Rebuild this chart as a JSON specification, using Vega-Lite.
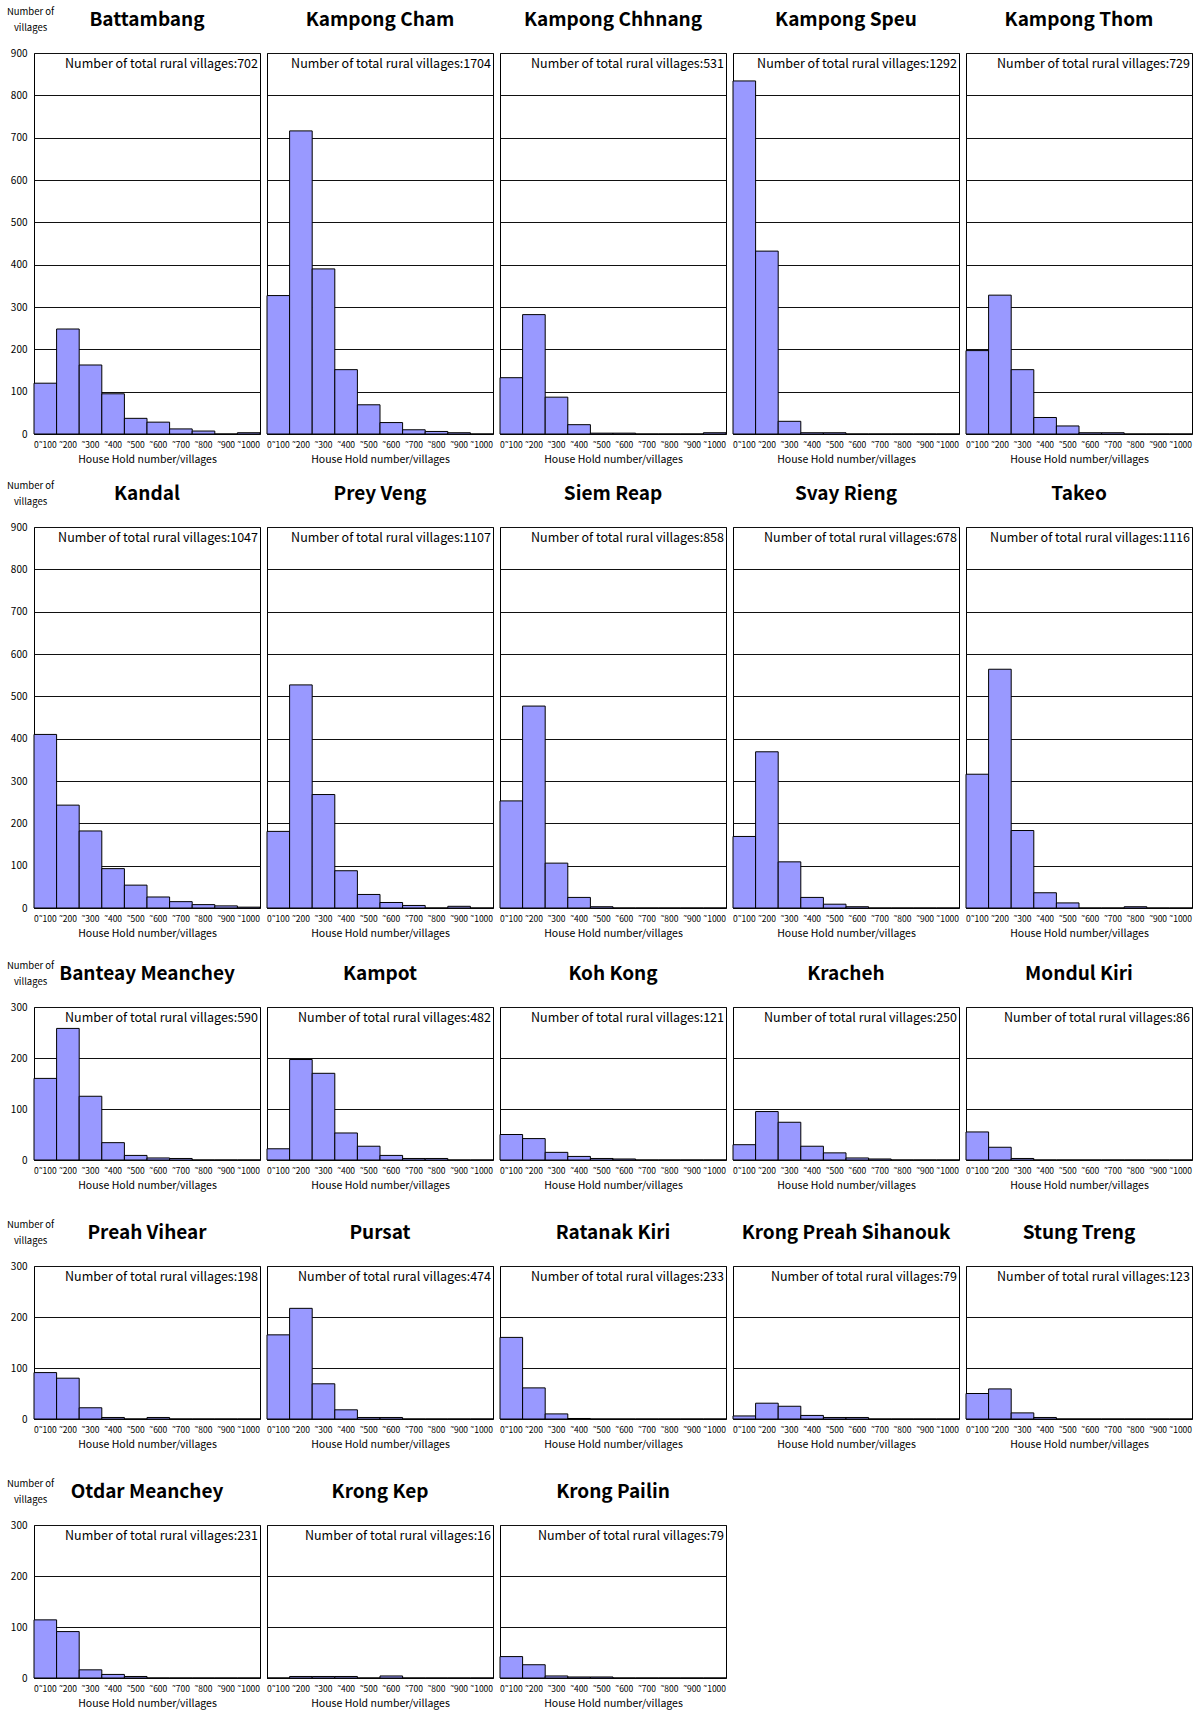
{
"$schema": "https://vega.github.io/schema/vega-lite/v6.json",
"background": "white",
"padding": {"left": 6, "top": 6, "right": 8, "bottom": 2},
"config": {
  "font": "Noto Sans CJK JP, Noto Sans, sans-serif",
  "view": {"stroke": "#000", "strokeWidth": 1},
  "axis": {"labelColor": "#000", "titleColor": "#000", "domain": false, "ticks": false},
  "header": {"labelFontSize": 19, "labelFontWeight": "bold", "labelColor": "#000", "labelPadding": 23, "labelFont": "Noto Sans CJK JP, Noto Sans, sans-serif"}
},
"datasets": {
"T": [
{"p":"Battambang","t":702},{"p":"Kampong Cham","t":1704},{"p":"Kampong Chhnang","t":531},{"p":"Kampong Speu","t":1292},{"p":"Kampong Thom","t":729},
{"p":"Kandal","t":1047},{"p":"Prey Veng","t":1107},{"p":"Siem Reap","t":858},{"p":"Svay Rieng","t":678},{"p":"Takeo","t":1116},
{"p":"Banteay Meanchey","t":590},{"p":"Kampot","t":482},{"p":"Koh Kong","t":121},{"p":"Kracheh","t":250},{"p":"Mondul Kiri","t":86},
{"p":"Preah Vihear","t":198},{"p":"Pursat","t":474},{"p":"Ratanak Kiri","t":233},{"p":"Krong Preah Sihanouk","t":79},{"p":"Stung Treng","t":123},
{"p":"Otdar Meanchey","t":231},{"p":"Krong Kep","t":16},{"p":"Krong Pailin","t":79}
],
"L": [
{"p":"Battambang","b":"0˜100","n":120},{"p":"Battambang","b":"˜200","n":248},{"p":"Battambang","b":"˜300","n":163},{"p":"Battambang","b":"˜400","n":95},{"p":"Battambang","b":"˜500","n":37},{"p":"Battambang","b":"˜600","n":28},{"p":"Battambang","b":"˜700","n":12},{"p":"Battambang","b":"˜800","n":7},{"p":"Battambang","b":"˜900","n":0},{"p":"Battambang","b":"˜1000","n":3},
{"p":"Kampong Cham","b":"0˜100","n":327},{"p":"Kampong Cham","b":"˜200","n":716},{"p":"Kampong Cham","b":"˜300","n":390},{"p":"Kampong Cham","b":"˜400","n":152},{"p":"Kampong Cham","b":"˜500","n":69},{"p":"Kampong Cham","b":"˜600","n":27},{"p":"Kampong Cham","b":"˜700","n":10},{"p":"Kampong Cham","b":"˜800","n":6},{"p":"Kampong Cham","b":"˜900","n":3},{"p":"Kampong Cham","b":"˜1000","n":0},
{"p":"Kampong Chhnang","b":"0˜100","n":133},{"p":"Kampong Chhnang","b":"˜200","n":282},{"p":"Kampong Chhnang","b":"˜300","n":87},{"p":"Kampong Chhnang","b":"˜400","n":22},{"p":"Kampong Chhnang","b":"˜500","n":2},{"p":"Kampong Chhnang","b":"˜600","n":2},{"p":"Kampong Chhnang","b":"˜700","n":0},{"p":"Kampong Chhnang","b":"˜800","n":0},{"p":"Kampong Chhnang","b":"˜900","n":0},{"p":"Kampong Chhnang","b":"˜1000","n":3},
{"p":"Kampong Speu","b":"0˜100","n":834},{"p":"Kampong Speu","b":"˜200","n":432},{"p":"Kampong Speu","b":"˜300","n":30},{"p":"Kampong Speu","b":"˜400","n":3},{"p":"Kampong Speu","b":"˜500","n":3},{"p":"Kampong Speu","b":"˜600","n":0},{"p":"Kampong Speu","b":"˜700","n":0},{"p":"Kampong Speu","b":"˜800","n":0},{"p":"Kampong Speu","b":"˜900","n":0},{"p":"Kampong Speu","b":"˜1000","n":0},
{"p":"Kampong Thom","b":"0˜100","n":197},{"p":"Kampong Thom","b":"˜200","n":328},{"p":"Kampong Thom","b":"˜300","n":152},{"p":"Kampong Thom","b":"˜400","n":39},{"p":"Kampong Thom","b":"˜500","n":19},{"p":"Kampong Thom","b":"˜600","n":3},{"p":"Kampong Thom","b":"˜700","n":3},{"p":"Kampong Thom","b":"˜800","n":0},{"p":"Kampong Thom","b":"˜900","n":0},{"p":"Kampong Thom","b":"˜1000","n":0},
{"p":"Kandal","b":"0˜100","n":410},{"p":"Kandal","b":"˜200","n":243},{"p":"Kandal","b":"˜300","n":182},{"p":"Kandal","b":"˜400","n":93},{"p":"Kandal","b":"˜500","n":54},{"p":"Kandal","b":"˜600","n":26},{"p":"Kandal","b":"˜700","n":15},{"p":"Kandal","b":"˜800","n":8},{"p":"Kandal","b":"˜900","n":5},{"p":"Kandal","b":"˜1000","n":2},
{"p":"Prey Veng","b":"0˜100","n":181},{"p":"Prey Veng","b":"˜200","n":527},{"p":"Prey Veng","b":"˜300","n":268},{"p":"Prey Veng","b":"˜400","n":88},{"p":"Prey Veng","b":"˜500","n":32},{"p":"Prey Veng","b":"˜600","n":13},{"p":"Prey Veng","b":"˜700","n":6},{"p":"Prey Veng","b":"˜800","n":0},{"p":"Prey Veng","b":"˜900","n":4},{"p":"Prey Veng","b":"˜1000","n":0},
{"p":"Siem Reap","b":"0˜100","n":253},{"p":"Siem Reap","b":"˜200","n":477},{"p":"Siem Reap","b":"˜300","n":106},{"p":"Siem Reap","b":"˜400","n":25},{"p":"Siem Reap","b":"˜500","n":3},{"p":"Siem Reap","b":"˜600","n":0},{"p":"Siem Reap","b":"˜700","n":0},{"p":"Siem Reap","b":"˜800","n":0},{"p":"Siem Reap","b":"˜900","n":0},{"p":"Siem Reap","b":"˜1000","n":0},
{"p":"Svay Rieng","b":"0˜100","n":169},{"p":"Svay Rieng","b":"˜200","n":369},{"p":"Svay Rieng","b":"˜300","n":109},{"p":"Svay Rieng","b":"˜400","n":25},{"p":"Svay Rieng","b":"˜500","n":9},{"p":"Svay Rieng","b":"˜600","n":3},{"p":"Svay Rieng","b":"˜700","n":0},{"p":"Svay Rieng","b":"˜800","n":0},{"p":"Svay Rieng","b":"˜900","n":0},{"p":"Svay Rieng","b":"˜1000","n":0},
{"p":"Takeo","b":"0˜100","n":316},{"p":"Takeo","b":"˜200","n":564},{"p":"Takeo","b":"˜300","n":183},{"p":"Takeo","b":"˜400","n":36},{"p":"Takeo","b":"˜500","n":12},{"p":"Takeo","b":"˜600","n":0},{"p":"Takeo","b":"˜700","n":0},{"p":"Takeo","b":"˜800","n":3},{"p":"Takeo","b":"˜900","n":0},{"p":"Takeo","b":"˜1000","n":0}
],
"S": [
{"p":"Banteay Meanchey","b":"0˜100","n":160},{"p":"Banteay Meanchey","b":"˜200","n":258},{"p":"Banteay Meanchey","b":"˜300","n":125},{"p":"Banteay Meanchey","b":"˜400","n":34},{"p":"Banteay Meanchey","b":"˜500","n":9},{"p":"Banteay Meanchey","b":"˜600","n":4},{"p":"Banteay Meanchey","b":"˜700","n":3},{"p":"Banteay Meanchey","b":"˜800","n":0},{"p":"Banteay Meanchey","b":"˜900","n":0},{"p":"Banteay Meanchey","b":"˜1000","n":0},
{"p":"Kampot","b":"0˜100","n":22},{"p":"Kampot","b":"˜200","n":197},{"p":"Kampot","b":"˜300","n":170},{"p":"Kampot","b":"˜400","n":53},{"p":"Kampot","b":"˜500","n":27},{"p":"Kampot","b":"˜600","n":9},{"p":"Kampot","b":"˜700","n":3},{"p":"Kampot","b":"˜800","n":3},{"p":"Kampot","b":"˜900","n":0},{"p":"Kampot","b":"˜1000","n":0},
{"p":"Koh Kong","b":"0˜100","n":50},{"p":"Koh Kong","b":"˜200","n":42},{"p":"Koh Kong","b":"˜300","n":15},{"p":"Koh Kong","b":"˜400","n":7},{"p":"Koh Kong","b":"˜500","n":3},{"p":"Koh Kong","b":"˜600","n":2},{"p":"Koh Kong","b":"˜700","n":0},{"p":"Koh Kong","b":"˜800","n":0},{"p":"Koh Kong","b":"˜900","n":0},{"p":"Koh Kong","b":"˜1000","n":0},
{"p":"Kracheh","b":"0˜100","n":30},{"p":"Kracheh","b":"˜200","n":95},{"p":"Kracheh","b":"˜300","n":74},{"p":"Kracheh","b":"˜400","n":27},{"p":"Kracheh","b":"˜500","n":14},{"p":"Kracheh","b":"˜600","n":4},{"p":"Kracheh","b":"˜700","n":2},{"p":"Kracheh","b":"˜800","n":0},{"p":"Kracheh","b":"˜900","n":0},{"p":"Kracheh","b":"˜1000","n":0},
{"p":"Mondul Kiri","b":"0˜100","n":55},{"p":"Mondul Kiri","b":"˜200","n":25},{"p":"Mondul Kiri","b":"˜300","n":3},{"p":"Mondul Kiri","b":"˜400","n":0},{"p":"Mondul Kiri","b":"˜500","n":0},{"p":"Mondul Kiri","b":"˜600","n":0},{"p":"Mondul Kiri","b":"˜700","n":0},{"p":"Mondul Kiri","b":"˜800","n":0},{"p":"Mondul Kiri","b":"˜900","n":0},{"p":"Mondul Kiri","b":"˜1000","n":0},
{"p":"Preah Vihear","b":"0˜100","n":91},{"p":"Preah Vihear","b":"˜200","n":80},{"p":"Preah Vihear","b":"˜300","n":22},{"p":"Preah Vihear","b":"˜400","n":3},{"p":"Preah Vihear","b":"˜500","n":0},{"p":"Preah Vihear","b":"˜600","n":3},{"p":"Preah Vihear","b":"˜700","n":0},{"p":"Preah Vihear","b":"˜800","n":0},{"p":"Preah Vihear","b":"˜900","n":0},{"p":"Preah Vihear","b":"˜1000","n":0},
{"p":"Pursat","b":"0˜100","n":165},{"p":"Pursat","b":"˜200","n":217},{"p":"Pursat","b":"˜300","n":69},{"p":"Pursat","b":"˜400","n":18},{"p":"Pursat","b":"˜500","n":3},{"p":"Pursat","b":"˜600","n":3},{"p":"Pursat","b":"˜700","n":0},{"p":"Pursat","b":"˜800","n":0},{"p":"Pursat","b":"˜900","n":0},{"p":"Pursat","b":"˜1000","n":0},
{"p":"Ratanak Kiri","b":"0˜100","n":160},{"p":"Ratanak Kiri","b":"˜200","n":61},{"p":"Ratanak Kiri","b":"˜300","n":10},{"p":"Ratanak Kiri","b":"˜400","n":1},{"p":"Ratanak Kiri","b":"˜500","n":0},{"p":"Ratanak Kiri","b":"˜600","n":0},{"p":"Ratanak Kiri","b":"˜700","n":0},{"p":"Ratanak Kiri","b":"˜800","n":0},{"p":"Ratanak Kiri","b":"˜900","n":0},{"p":"Ratanak Kiri","b":"˜1000","n":0},
{"p":"Krong Preah Sihanouk","b":"0˜100","n":6},{"p":"Krong Preah Sihanouk","b":"˜200","n":31},{"p":"Krong Preah Sihanouk","b":"˜300","n":25},{"p":"Krong Preah Sihanouk","b":"˜400","n":7},{"p":"Krong Preah Sihanouk","b":"˜500","n":3},{"p":"Krong Preah Sihanouk","b":"˜600","n":3},{"p":"Krong Preah Sihanouk","b":"˜700","n":0},{"p":"Krong Preah Sihanouk","b":"˜800","n":0},{"p":"Krong Preah Sihanouk","b":"˜900","n":0},{"p":"Krong Preah Sihanouk","b":"˜1000","n":0},
{"p":"Stung Treng","b":"0˜100","n":50},{"p":"Stung Treng","b":"˜200","n":59},{"p":"Stung Treng","b":"˜300","n":12},{"p":"Stung Treng","b":"˜400","n":3},{"p":"Stung Treng","b":"˜500","n":0},{"p":"Stung Treng","b":"˜600","n":0},{"p":"Stung Treng","b":"˜700","n":0},{"p":"Stung Treng","b":"˜800","n":0},{"p":"Stung Treng","b":"˜900","n":0},{"p":"Stung Treng","b":"˜1000","n":0},
{"p":"Otdar Meanchey","b":"0˜100","n":114},{"p":"Otdar Meanchey","b":"˜200","n":91},{"p":"Otdar Meanchey","b":"˜300","n":16},{"p":"Otdar Meanchey","b":"˜400","n":7},{"p":"Otdar Meanchey","b":"˜500","n":3},{"p":"Otdar Meanchey","b":"˜600","n":0},{"p":"Otdar Meanchey","b":"˜700","n":0},{"p":"Otdar Meanchey","b":"˜800","n":0},{"p":"Otdar Meanchey","b":"˜900","n":0},{"p":"Otdar Meanchey","b":"˜1000","n":0},
{"p":"Krong Kep","b":"0˜100","n":0},{"p":"Krong Kep","b":"˜200","n":3},{"p":"Krong Kep","b":"˜300","n":3},{"p":"Krong Kep","b":"˜400","n":3},{"p":"Krong Kep","b":"˜500","n":0},{"p":"Krong Kep","b":"˜600","n":4},{"p":"Krong Kep","b":"˜700","n":0},{"p":"Krong Kep","b":"˜800","n":0},{"p":"Krong Kep","b":"˜900","n":0},{"p":"Krong Kep","b":"˜1000","n":0},
{"p":"Krong Pailin","b":"0˜100","n":42},{"p":"Krong Pailin","b":"˜200","n":26},{"p":"Krong Pailin","b":"˜300","n":4},{"p":"Krong Pailin","b":"˜400","n":2},{"p":"Krong Pailin","b":"˜500","n":2},{"p":"Krong Pailin","b":"˜600","n":0},{"p":"Krong Pailin","b":"˜700","n":0},{"p":"Krong Pailin","b":"˜800","n":0},{"p":"Krong Pailin","b":"˜900","n":0},{"p":"Krong Pailin","b":"˜1000","n":0}
]
},
"spacing": 20,
"vconcat": [
{
  "data": {"name": "L"},
  "transform": [{"lookup": "p", "from": {"data": {"name": "T"}, "key": "p", "fields": ["t"]}}],
  "facet": {"field": "p", "type": "nominal", "header": {"title": null}, "sort": ["Battambang","Kampong Cham","Kampong Chhnang","Kampong Speu","Kampong Thom","Kandal","Prey Veng","Siem Reap","Svay Rieng","Takeo"]},
  "columns": 5,
  "spacing": {"row": 18, "column": 4},
  "resolve": {"axis": {"x": "independent"}},
  "spec": {
    "width": 226, "height": 381,
    "encoding": {
      "x": {"field": "b", "type": "ordinal", "sort": ["0˜100","˜200","˜300","˜400","˜500","˜600","˜700","˜800","˜900","˜1000"],
            "scale": {"paddingInner": 0, "paddingOuter": 0},
            "axis": {"title": "House Hold number/villages", "labelAngle": 0, "labelFontSize": 8.5, "labelPadding": 6, "titleFontSize": 10.5, "titleFontWeight": "normal", "titlePadding": 6}},
      "y": {"field": "n", "type": "quantitative", "scale": {"domain": [0, 900]},
            "axis": {"values": [0,100,200,300,400,500,600,700,800,900], "grid": true, "gridColor": "#111", "gridWidth": 1, "labelFontSize": 10, "labelPadding": 5,
                     "title": ["Number of", "villages"], "titleAngle": 0, "titleAlign": "center", "titleBaseline": "top", "titleX": -2, "titleY": -47, "titleFontSize": 9.5, "titleFontWeight": "normal", "titleLineHeight": 16}}
    },
    "layer": [
      {"mark": {"type": "bar", "fill": "#9999ff", "stroke": "#000", "strokeWidth": 1}},
      {
        "transform": [{"filter": "datum.b === '˜1000'"}, {"calculate": "'Number of total rural villages:' + datum.t", "as": "label"}],
        "mark": {"type": "text", "align": "right", "baseline": "top", "dx": -2, "dy": 5, "fontSize": 12.5, "color": "#000"},
        "encoding": {
          "x": {"field": "b", "type": "ordinal", "sort": ["0˜100","˜200","˜300","˜400","˜500","˜600","˜700","˜800","˜900","˜1000"], "bandPosition": 1, "title": "House Hold number/villages"},
          "y": {"datum": 900, "type": "quantitative", "title": ["Number of", "villages"]},
          "text": {"field": "label"}
        }
      }
    ]
  }
},
{
  "data": {"name": "S"},
  "transform": [{"lookup": "p", "from": {"data": {"name": "T"}, "key": "p", "fields": ["t"]}}],
  "facet": {"field": "p", "type": "nominal", "header": {"title": null}, "sort": ["Banteay Meanchey","Kampot","Koh Kong","Kracheh","Mondul Kiri","Preah Vihear","Pursat","Ratanak Kiri","Krong Preah Sihanouk","Stung Treng","Otdar Meanchey","Krong Kep","Krong Pailin"]},
  "columns": 5,
  "spacing": {"row": 31, "column": 4},
  "resolve": {"axis": {"x": "independent"}},
  "spec": {
    "width": 226, "height": 153,
    "encoding": {
      "x": {"field": "b", "type": "ordinal", "sort": ["0˜100","˜200","˜300","˜400","˜500","˜600","˜700","˜800","˜900","˜1000"],
            "scale": {"paddingInner": 0, "paddingOuter": 0},
            "axis": {"title": "House Hold number/villages", "labelAngle": 0, "labelFontSize": 8.5, "labelPadding": 6, "titleFontSize": 10.5, "titleFontWeight": "normal", "titlePadding": 6}},
      "y": {"field": "n", "type": "quantitative", "scale": {"domain": [0, 300]},
            "axis": {"values": [0,100,200,300], "grid": true, "gridColor": "#111", "gridWidth": 1, "labelFontSize": 10, "labelPadding": 5,
                     "title": ["Number of", "villages"], "titleAngle": 0, "titleAlign": "center", "titleBaseline": "top", "titleX": -2, "titleY": -47, "titleFontSize": 9.5, "titleFontWeight": "normal", "titleLineHeight": 16}}
    },
    "layer": [
      {"mark": {"type": "bar", "fill": "#9999ff", "stroke": "#000", "strokeWidth": 1}},
      {
        "transform": [{"filter": "datum.b === '˜1000'"}, {"calculate": "'Number of total rural villages:' + datum.t", "as": "label"}],
        "mark": {"type": "text", "align": "right", "baseline": "top", "dx": -2, "dy": 5, "fontSize": 12.5, "color": "#000"},
        "encoding": {
          "x": {"field": "b", "type": "ordinal", "sort": ["0˜100","˜200","˜300","˜400","˜500","˜600","˜700","˜800","˜900","˜1000"], "bandPosition": 1, "title": "House Hold number/villages"},
          "y": {"datum": 300, "type": "quantitative", "title": ["Number of", "villages"]},
          "text": {"field": "label"}
        }
      }
    ]
  }
}
]
}
